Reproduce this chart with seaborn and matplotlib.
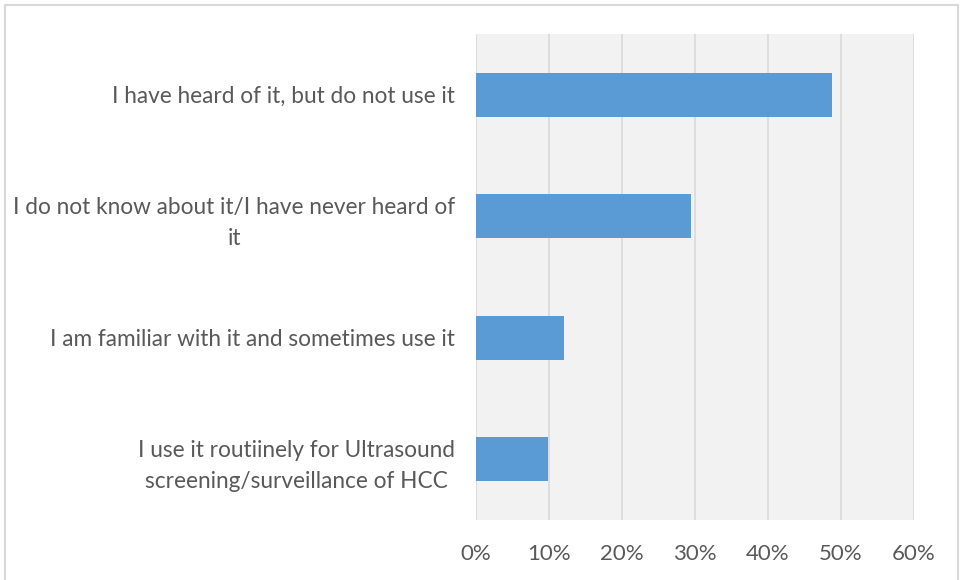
import matplotlib
matplotlib.use("Agg")
import matplotlib.pyplot as plt
import seaborn as sns
import pandas as pd
from matplotlib.ticker import PercentFormatter
from matplotlib.patches import Rectangle

categories = [
    "I have heard of it, but do not use it",
    "I do not know about it/I have never heard of\nit",
    "I am familiar with it and sometimes use it",
    "I use it routiinely for Ultrasound\nscreening/surveillance of HCC",
]
values = [0.487, 0.295, 0.12, 0.098]

df = pd.DataFrame({"category": categories, "value": values})

sns.set_style("white")
plt.rcParams["font.family"] = ["Lato", "DejaVu Sans"]

fig = plt.figure(figsize=(9.64, 5.8), dpi=100)
ax = fig.add_axes([476 / 964, 1 - 520 / 580, (914 - 476) / 964, (520 - 34) / 580])

sns.barplot(data=df, x="value", y="category", color="#5b9bd5", width=0.36,
            saturation=1, ax=ax, orient="h", linewidth=0)

ax.set_facecolor("#f2f2f2")
ax.set_xlim(0, 0.6)
ax.set_xticks([0, 0.1, 0.2, 0.3, 0.4, 0.5, 0.6])
ax.xaxis.set_major_formatter(PercentFormatter(1.0, decimals=0))
ax.grid(axis="x", color="#d9d9d9", linewidth=1.2)
ax.set_axisbelow(True)
for s in ax.spines.values():
    s.set_visible(False)
ax.set_xlabel("")
ax.set_ylabel("")
ax.tick_params(axis="x", labelsize=16, colors="#595959", length=0, pad=17)
ax.tick_params(axis="y", labelsize=16.3, colors="#595959", length=0, pad=15)
for lbl in ax.get_yticklabels():
    lbl.set_multialignment("center")
    lbl.set_linespacing(1.55)

fig.patches.append(Rectangle((5 / 964, -0.01), (958 - 5) / 964, 1 - 5 / 580 + 0.01,
                             transform=fig.transFigure, fill=False,
                             edgecolor="#d9d9d9", linewidth=1.5))

fig.savefig("out.png", dpi=100)
